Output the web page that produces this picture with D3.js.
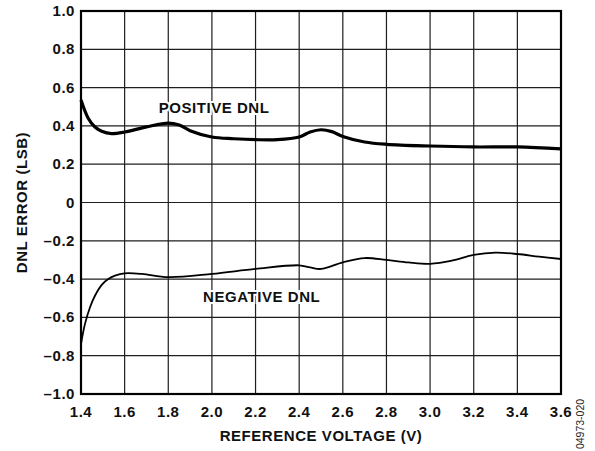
<!DOCTYPE html>
<html>
<head>
<meta charset="utf-8">
<script src="https://cdn.jsdelivr.net/npm/d3@7"></script>
<style>
  body { margin: 0; background: #fff; }
  text { font-family: "Liberation Sans", Arial, sans-serif; }
</style>
</head>
<body>
<div id="chart"></div>
<script>
// reference voltage (V) and DNL error (LSB)
const posVolts = [1.40, 1.433, 1.464, 1.495, 1.54, 1.60, 1.70, 1.80, 1.85, 1.90, 2.00, 2.10, 2.20, 2.30, 2.40, 2.45, 2.50, 2.55, 2.60, 2.70, 2.80, 3.00, 3.20, 3.40, 3.60];
const posDnl   = [0.535, 0.44, 0.394, 0.372, 0.36, 0.368, 0.395, 0.415, 0.405, 0.375, 0.342, 0.333, 0.328, 0.328, 0.342, 0.368, 0.38, 0.37, 0.345, 0.316, 0.304, 0.295, 0.29, 0.29, 0.28];

const negVolts = [1.40, 1.418, 1.441, 1.464, 1.495, 1.525, 1.556, 1.60, 1.68, 1.80, 2.00, 2.20, 2.40, 2.45, 2.50, 2.60, 2.70, 2.80, 2.90, 3.00, 3.10, 3.20, 3.30, 3.40, 3.50, 3.60];
const negDnl   = [-0.74, -0.635, -0.548, -0.487, -0.43, -0.40, -0.382, -0.37, -0.373, -0.39, -0.373, -0.347, -0.328, -0.339, -0.347, -0.313, -0.29, -0.30, -0.313, -0.32, -0.304, -0.274, -0.262, -0.269, -0.283, -0.295];

const xTicks = [1.4, 1.6, 1.8, 2.0, 2.2, 2.4, 2.6, 2.8, 3.0, 3.2, 3.4, 3.6];
const yTicks = [-1.0, -0.8, -0.6, -0.4, -0.2, 0, 0.2, 0.4, 0.6, 0.8, 1.0];

const width = 595, height = 451;
const margin = { left: 81, right: 34, top: 11, bottom: 57 };

const svg = d3.select("#chart").append("svg")
    .attr("width", width)
    .attr("height", height);

const x = d3.scaleLinear().domain([1.4, 3.6]).range([margin.left, width - margin.right]);
const y = d3.scaleLinear().domain([-1.0, 1.0]).range([height - margin.bottom, margin.top]);

const fmtY = v => v === 0 ? "0" : (v < 0 ? "\u2013" : "") + Math.abs(v).toFixed(1);

// grid
svg.append("g")
    .selectAll("line.vgrid")
    .data(xTicks)
    .enter().append("line")
    .attr("x1", d => x(d)).attr("x2", d => x(d))
    .attr("y1", y(-1)).attr("y2", y(1))
    .attr("stroke", "#1e1e1e").attr("stroke-width", 1.2);

svg.append("g")
    .selectAll("line.hgrid")
    .data(yTicks)
    .enter().append("line")
    .attr("x1", x(1.4)).attr("x2", x(3.6))
    .attr("y1", d => y(d)).attr("y2", d => y(d))
    .attr("stroke", "#1e1e1e").attr("stroke-width", 1.2);

// frame
svg.append("rect")
    .attr("x", x(1.4)).attr("y", y(1))
    .attr("width", x(3.6) - x(1.4)).attr("height", y(-1) - y(1))
    .attr("fill", "none").attr("stroke", "#000").attr("stroke-width", 2.2);

// tick labels
const tickStyle = sel => sel
    .attr("font-size", 15).attr("font-weight", "bold")
    .attr("letter-spacing", 0.55).attr("fill", "#111");

svg.append("g").selectAll("text")
    .data(xTicks)
    .enter().append("text")
    .attr("x", d => x(d)).attr("y", y(-1) + 23)
    .attr("text-anchor", "middle")
    .call(tickStyle)
    .text(d => d.toFixed(1));

svg.append("g").selectAll("text")
    .data(yTicks)
    .enter().append("text")
    .attr("x", margin.left - 6).attr("y", d => y(d) + 5)
    .attr("text-anchor", "end")
    .call(tickStyle)
    .text(fmtY);

// axis titles
svg.append("text")
    .attr("x", (x(1.4) + x(3.6)) / 2).attr("y", 441)
    .attr("text-anchor", "middle")
    .call(tickStyle)
    .text("REFERENCE VOLTAGE (V)");

svg.append("text")
    .attr("transform", "translate(27," + y(0) + ") rotate(-90)")
    .attr("text-anchor", "middle")
    .call(tickStyle)
    .text("DNL ERROR (LSB)");

// curves
const line = d3.line()
    .x(d => x(d[0]))
    .y(d => y(d[1]))
    .curve(d3.curveCatmullRom.alpha(0.5));

svg.append("path")
    .datum(d3.zip(posVolts, posDnl))
    .attr("d", line)
    .attr("fill", "none").attr("stroke", "#000").attr("stroke-width", 3.2)
    .attr("stroke-linejoin", "round");

svg.append("path")
    .datum(d3.zip(negVolts, negDnl))
    .attr("d", line)
    .attr("fill", "none").attr("stroke", "#000").attr("stroke-width", 1.8)
    .attr("stroke-linejoin", "round");

// curve labels (white halo to cover grid)
const label = (txt, vx, vy) => {
    svg.append("text")
        .attr("x", x(vx)).attr("y", y(vy))
        .attr("text-anchor", "middle")
        .attr("stroke", "#fff").attr("stroke-width", 4)
        .call(tickStyle)
        .text(txt);
    svg.append("text")
        .attr("x", x(vx)).attr("y", y(vy))
        .attr("text-anchor", "middle")
        .call(tickStyle)
        .text(txt);
};
label("POSITIVE DNL", 2.01, 0.466);
label("NEGATIVE DNL", 2.228, -0.522);

// figure id
svg.append("text")
    .attr("transform", "translate(584,424) rotate(-90)")
    .attr("text-anchor", "middle")
    .attr("font-size", 10.5).attr("fill", "#222")
    .text("04973-020");
</script>
</body>
</html>
